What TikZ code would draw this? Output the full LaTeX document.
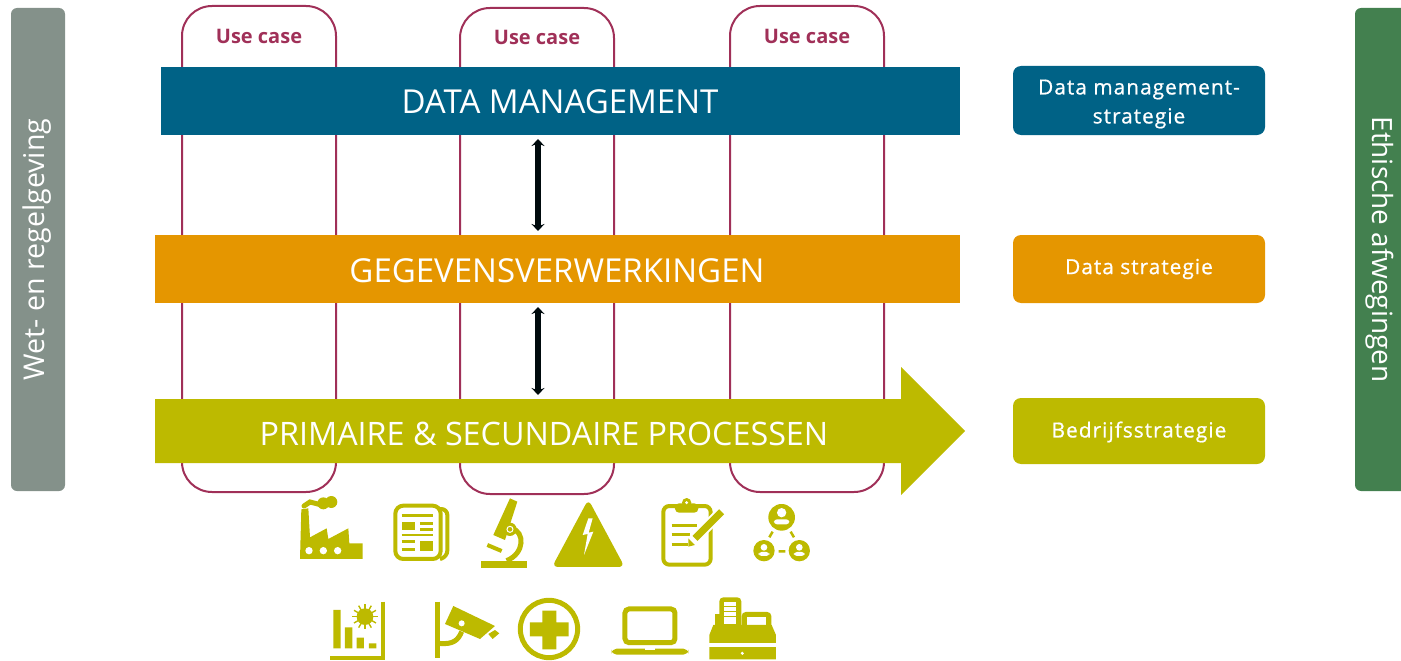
\documentclass[tikz,border=0pt]{standalone}
\usepackage{fontspec}
\setmainfont{Open Sans}
\newfontfamily\stratfont[LetterSpace=5,FakeBold=0.8]{Open Sans}
\usetikzlibrary{arrows.meta}
\definecolor{ucred}{HTML}{A03058}
\definecolor{dmblue}{HTML}{006286}
\definecolor{gvor}{HTML}{E59600}
\definecolor{ppgr}{HTML}{BDBA00}
\definecolor{sidegr}{HTML}{84918A}
\definecolor{sidegn}{HTML}{43804F}
\tikzset{
  ucbox/.style={draw=ucred,line width=2pt,rounded corners=30pt,minimum width=154pt,minimum height=486pt,inner sep=0pt},
  uclabel/.style={text=ucred,font=\fontsize{20}{24}\selectfont\bfseries,inner sep=0pt},
  band/.style={text=white,inner sep=0pt,font=\fontsize{33}{38}\selectfont},
  stratbox/.style={rounded corners=8pt,minimum width=252pt,inner sep=0pt},
  strattext/.style={text=white,inner sep=0pt,align=center,font=\stratfont\fontsize{20.8}{29}\selectfont},
  sidebox/.style={rounded corners=6pt,minimum height=483pt,inner sep=0pt},
  sidetext/.style={text=white,inner sep=0pt,font=\fontsize{28.6}{32}\selectfont},
  link/.style={line width=5.5pt,color=black!90!dmblue,{Stealth[width=13pt,length=7pt]}-{Stealth[width=13pt,length=7pt]},shorten >=4pt,shorten <=4pt},
  zoomA/.style={shift={(290pt,-490pt)},x=0.3333pt,y=-0.3333pt},
  zoomB/.style={shift={(550pt,-490pt)},x=0.3333pt,y=-0.3333pt},
  icl/.style={draw=ppgr,fill=none,line width=4pt}
}
\begin{document}
\begin{tikzpicture}[x=1pt,y=-1pt]
\useasboundingbox (0,0) rectangle (1401,661);
% side boxes
\node[sidebox,fill=sidegr,minimum width=54pt] (left) at (38,249.5) {};
\node[sidetext,rotate=90] (lefttext) at (37,249.5) {Wet- en regelgeving};
\fill[sidegn,rounded corners=6pt] (1355,8) rectangle (1410,491);
\node[sidetext,rotate=-90,font=\fontsize{27.9}{32}\selectfont] (righttext) at (1380,249.5) {Ethische afwegingen};
% use case frames
\node[ucbox] (uc1) at (259,249) {};
\node[ucbox] (uc2) at (537,251) {};
\node[ucbox] (uc3) at (807,249) {};
\node[uclabel] (l1) at (259,36) {Use case};
\node[uclabel] (l2) at (537,37) {Use case};
\node[uclabel] (l3) at (807,36) {Use case};
% bands
\node[fill=dmblue,inner sep=0pt,minimum width=799pt,minimum height=68pt] (dm) at (560.5,101) {};
\node[band] (dmt) at (560,102) {DATA MANAGEMENT};
\node[fill=gvor,inner sep=0pt,minimum width=805pt,minimum height=68pt] (gv) at (557.5,269) {};
\node[band] (gvt) at (557,271) {GEGEVENSVERWERKINGEN};
\fill[ppgr] (155,399) -- (901,399) -- (901,367) -- (965,431) -- (901,495) -- (901,463) -- (155,463) -- cycle;
\coordinate (pp) at (538,399);
\node[band,font=\fontsize{32.3}{38}\selectfont] (ppt) at (544,434) {PRIMAIRE \& SECUNDAIRE PROCESSEN};
% links
\coordinate (a1) at (538,135);
\coordinate (a2) at (538,235);
\coordinate (a3) at (538,303);
\draw[link] (a1) -- (a2);
\draw[link] (a3) -- (pp);
% strategy
\node[stratbox,fill=dmblue,minimum height=69pt] (s1) at (1139,100.5) {};
\node[strattext] (s1t) at (1139,104) {Data management-\\strategie};
\node[stratbox,fill=gvor,minimum height=68pt] (s2) at (1139,269) {};
\node[strattext] (s2t) at (1139,269) {Data strategie};
\node[stratbox,fill=ppgr,minimum height=66pt] (s3) at (1139,431) {};
\node[strattext] (s3t) at (1139,432) {Bedrijfsstrategie};
% icons A
\begin{scope}[zoomA]
 % factory
 \fill[ppgr] (30,207)--(34,58)--(55,55)--(60,142)--(110,115)--(115,147)--(175,115)--(178,160)--(218,160)--(218,207)--cycle;
 \draw[ppgr,line width=5pt,line cap=round] (42,48)--(60,36)--(95,45)--(130,36);
 \fill[ppgr] (100,40) circle (18) (124,36) circle (18);
 \fill[white] (57,182) circle (11) (100,182) circle (11) (143,182) circle (11);
 % newspaper
 \draw[ppgr,line width=4pt,rounded corners=6pt] (450,57)--(472,57)--(472,200)--(450,207);
 \draw[icl,rounded corners=8pt] (316,47) rectangle (452,207);
 \draw[ppgr,line width=3pt] (335,75)--(430,75);
 \fill[ppgr] (335,95) rectangle (375,120);
 \draw[ppgr,line width=2.5pt] (390,100)--(430,100) (390,118)--(430,118) (335,135)--(430,135) (335,155)--(375,155) (335,178)--(375,178);
 \fill[ppgr] (390,152) rectangle (430,182);
 % microscope
 \fill[ppgr] (660,25)--(682,35)--(645,150)--(610,135)--cycle;
 \draw[ppgr,line width=5pt] (665,115) .. controls (705,125) and (705,190) .. (650,212);
 \fill[ppgr] (660,118) circle (20);
 \draw[white,line width=1pt] (660,118) circle (9);
 \draw[ppgr,line width=4pt] (592,165)--(635,183);
 \fill[ppgr] (572,214) rectangle (712,233);
 % chart
 \fill[ppgr] (130,360) rectangle (152,475) (165,412) rectangle (187,475) (200,443) rectangle (222,475) (237,460) rectangle (259,475);
 \draw[ppgr,line width=4pt] (280,335)--(280,503)--(120,503);
 \fill[ppgr] (225,380) circle (25);
 \foreach \a in {0,30,...,330} \draw[ppgr,line width=1.4pt] (225,380)--++(\a:38);
 % camera
 \draw[ppgr,line width=5pt] (443,335)--(443,505);
 \draw[ppgr,line width=5pt] (445,460) .. controls (490,465) and (505,450) .. (515,425);
 \fill[ppgr] (490,348)--(615,408)--(570,447)--(465,402)--cycle;
 \fill[white] (515,400) circle (9);
 \fill[ppgr] (595,432)--(615,420)--(628,430)--(608,447)--cycle;
 % medical
 \draw[ppgr,line width=5pt] (777,417) circle (86);
 \fill[ppgr] (757,362) rectangle (799,478) (720,397) rectangle (836,439);
\end{scope}
% icons B
\begin{scope}[zoomB]
 % warning
 \fill[ppgr,rounded corners=6pt] (115,28)--(224,231)--(6,231)--cycle;
 \fill[white] (115,85)--(98,135)--(113,132)--(102,195)--(130,125)--(116,128)--(128,85)--cycle;
 % clipboard
 \draw[ppgr,line width=4pt,rounded corners=6pt] (340,48) rectangle (482,224);
 \fill[ppgr,rounded corners=4pt] (375,40) rectangle (445,68);
 \fill[ppgr] (410,38) circle (14);
 \fill[white] (410,38) circle (5);
 \draw[ppgr,line width=3pt] (365,105)--(440,105) (365,135)--(420,135) (365,165)--(415,165);
 \draw[white,line width=11pt] (515,65)--(430,150);
 \draw[ppgr,line width=7pt] (515,65)--(435,145);
 \fill[ppgr] (415,145)--(435,165)--(415,170)--cycle;
 % network
 \fill[ppgr] (695,82) circle (40) (642,182) circle (32) (748,182) circle (32);
 \fill[white] (695,68) circle (14) (642,172) circle (10) (748,172) circle (10);
 \fill[white,rounded corners=3pt] (672,88) rectangle (718,103) (626,186) rectangle (658,198) (732,186) rectangle (764,198);
 \draw[ppgr,line width=2.5pt] (668,125)--(658,142) (722,125)--(732,142) (686,184)--(706,184);
 % laptop
 \draw[ppgr,line width=5pt,rounded corners=4pt] (225,357) rectangle (375,458);
 \fill[ppgr,rounded corners=5pt] (185,476) rectangle (415,494);
 \fill[white] (285,474) rectangle (315,479);
 % register
 \fill[ppgr,rounded corners=4pt] (508,322) rectangle (574,420);
 \fill[ppgr,rounded corners=4pt] (575,366) rectangle (664,430);
 \fill[ppgr] (495,372) rectangle (520,430);
 \fill[white] (590,380) rectangle (648,405);
 \fill[white] (522,335) rectangle (558,402);
 \draw[ppgr,line width=1.5pt] (522,350)--(558,350) (522,365)--(558,365) (522,380)--(558,380);
 \fill[ppgr] (490,405)--(665,405)--(678,435)--(678,508)--(478,508)--(478,435)--cycle;
 \fill[white] (478,458) rectangle (678,472);
 \fill[white] (577,490) circle (5);
\end{scope}
\end{tikzpicture}
\end{document}
